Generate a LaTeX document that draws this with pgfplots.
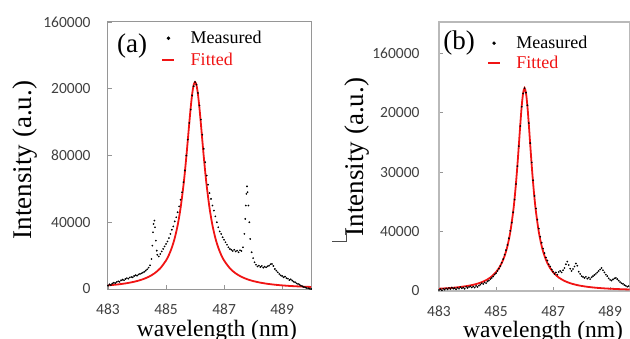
\documentclass[border=0pt]{standalone}
\usepackage{pgfplots}
\pgfplotsset{compat=1.18}
\usepackage{fontspec}
\setmainfont{Liberation Serif}
\newfontfamily\seriffont{Liberation Serif}
\newfontfamily\tickfont{Carlito}
\definecolor{tickgray}{RGB}{64,64,64}
\definecolor{boxgray}{RGB}{150,150,150}
\definecolor{fitred}{RGB}{240,20,20}

\pgfplotsset{
  spec/.style={
    scale only axis, anchor=south west,
    xmin=483, ymin=0,
    xtick={483,485,487,489},
    xticklabels={483,485,487,489},
    ytick={0,40000,80000,120000,160000},
    scaled ticks=false,
    tick align=inside, major tick length=4pt,
    xtick pos=bottom, ytick pos=left,
    axis line style={boxgray, line width=1pt},
    tick style={boxgray, line width=0.8pt},
    tick label style={font=\tickfont\fontsize{15.5}{15.5}\selectfont, text=tickgray},
    xticklabel style={yshift=-11pt},
    ylabel={Intensity (a.u.)},
    xlabel={wavelength (nm)},
    legend cell align=left,
    reverse legend,
  },
  meas/.style={only marks, mark=*, mark size=0.65pt, black,
    legend image code/.code={\draw[mark repeat=2,mark phase=2,##1,mark size=1.5pt] plot coordinates {(0pt,0pt) (6pt,0pt) (12pt,0pt)};}},
  fit/.style={fitred, line width=1.8pt, smooth, no marks,
    legend image code/.code={\draw[##1, line width=2.5pt] (0pt,0pt) -- (12pt,0pt);}},
}

\begin{document}
\begin{tikzpicture}
\useasboundingbox (0,0) rectangle (630pt,338pt);
\clip (0,0) rectangle (630pt,338pt);

% ---------------- (a) ----------------
\begin{axis}[spec,
  at={(108pt,49pt)}, width=204pt, height=267pt,
  xmax=490.03, ymax=160000,
  yticklabels={0,40000,80000,20000,160000},
  yticklabel style={xshift=-14pt},
  every axis y label/.style={at={(axis description cs:-0.407,0.483)}, rotate=90, anchor=center, font=\seriffont\fontsize{27}{27}\selectfont},
  every axis x label/.style={at={(axis description cs:0.534,-0.178)}, anchor=base, font=\seriffont\fontsize{23.5}{23.5}\selectfont},
  legend style={draw=none, fill=none, at={(rel axis cs:0.26,0.968)}, anchor=north west,
    font=\seriffont\fontsize{18}{18}\selectfont, inner sep=0pt, row sep=7pt,
    nodes={inner ysep=1pt, inner xsep=2pt, text height=12pt, text depth=1pt}},
]
\addplot[fit] table {
x y
483.00 2166
483.25 2569
483.50 3095
483.75 3799
484.00 4769
484.20 5835
484.40 7294
484.60 9358
484.80 12400
485.00 17103
485.10 20454
485.20 24800
485.30 30523
485.40 38154
485.50 48390
485.60 62000
485.65 70230
485.70 79360
485.75 89169
485.80 99200
485.85 108712
485.90 116706
485.95 122092
486.00 124000
486.05 122092
486.10 116706
486.15 108712
486.20 99200
486.25 89169
486.30 79360
486.35 70230
486.40 62000
486.50 48390
486.60 38154
486.70 30523
486.80 24800
486.90 20454
487.00 17103
487.20 12400
487.40 9358
487.60 7294
487.80 5835
488.00 4769
488.25 3799
488.50 3095
488.75 2569
489.00 2166
489.25 1850
489.50 1599
489.75 1395
490.00 1228
};
\addlegendentry{\hspace{13pt}\textcolor{fitred}{Fitted}}
\addplot[meas] table {
x y
483.00 2000
483.05 2800
483.10 2400
483.15 3300
483.20 3800
483.25 3500
483.30 4200
483.35 4600
483.40 4300
483.45 5200
483.50 5600
483.55 5300
483.60 6000
483.65 6500
483.70 6200
483.75 6900
483.80 7200
483.85 7000
483.90 7800
483.95 8300
484.00 8000
484.05 8700
484.10 9000
484.15 9400
484.20 9800
484.25 10300
484.30 11000
484.35 11800
484.40 12800
484.45 14200
484.50 18000
484.53 26000
484.55 34000
484.57 39000
484.60 41000
484.62 37000
484.65 29000
484.68 23000
484.70 20500
484.75 19500
484.80 21000
484.85 22500
484.90 24000
484.95 25500
485.00 27000
485.05 28500
485.10 30500
485.15 33000
485.20 35500
485.25 37500
485.30 40500
485.35 43000
485.40 46000
485.45 49500
485.50 53500
485.55 58000
485.60 64000
485.65 71000
485.70 80000
485.75 89500
485.80 99500
485.85 107500
485.90 116000
485.95 121500
486.00 124000
486.05 122500
486.10 117500
486.15 110000
486.20 101500
486.25 92500
486.30 84000
486.35 76000
486.40 68000
486.45 62500
486.50 57500
486.55 54000
486.60 50000
486.65 47000
486.70 43500
486.75 40000
486.80 37000
486.85 34500
486.90 33000
486.95 31000
487.00 29500
487.05 28000
487.10 26500
487.15 25000
487.20 24000
487.25 23500
487.30 22800
487.35 23500
487.40 22500
487.45 23000
487.50 22000
487.55 23200
487.60 22800
487.65 25000
487.70 33000
487.73 42000
487.75 50000
487.77 57000
487.79 61500
487.81 58000
487.84 50000
487.87 40000
487.90 30000
487.95 22000
488.00 18500
488.05 16000
488.10 14500
488.15 13500
488.20 14000
488.25 13200
488.30 13800
488.35 12800
488.40 13400
488.45 13000
488.50 13600
488.55 14000
488.60 14800
488.65 15000
488.70 13800
488.75 12000
488.80 11000
488.85 10000
488.90 9000
488.95 8200
489.00 7800
489.05 7000
489.10 7400
489.15 6500
489.20 6200
489.25 5400
489.30 5800
489.35 5000
489.40 4400
489.45 4000
489.50 3400
489.55 3000
489.60 2600
489.65 2000
489.70 1600
489.75 1200
489.80 900
489.85 600
489.90 400
489.95 200
490.00 0
};
\addlegendentry{\hspace{13pt}Measured}
\node[font=\seriffont\fontsize{27}{27}\selectfont] at (rel axis cs:0.118,0.910) {(a)};
\end{axis}

% ---------------- (b) ----------------
\begin{axis}[spec,
  at={(439pt,47pt)}, width=190.5pt, height=269pt,
  xmax=489.68, ymax=181000,
  yticklabels={0,40000,30000,20000,160000},
  yticklabel style={xshift=-16pt},
  every axis y label/.style={at={(axis description cs:-0.428,0.498)}, rotate=90, anchor=center, font=\seriffont\fontsize{27}{27}\selectfont},
  every axis x label/.style={at={(axis description cs:0.546,-0.171)}, anchor=base, font=\seriffont\fontsize{23.5}{23.5}\selectfont},
  axis line style={gray!55, line width=1.4pt},
  legend style={draw=none, fill=none, at={(rel axis cs:0.25,0.950)}, anchor=north west,
    font=\seriffont\fontsize{18}{18}\selectfont, inner sep=0pt, row sep=5pt,
    nodes={inner ysep=1pt, inner xsep=2pt, text height=12pt, text depth=1pt}},
]
\addplot[fit] table {
x y
483.00 1536
483.25 1824
483.50 2200
483.75 2706
484.00 3407
484.20 4182
484.40 5250
484.60 6778
484.80 9062
485.00 12680
485.10 15320
485.20 18828
485.30 23595
485.40 30229
485.50 39665
485.60 53270
485.65 62152
485.70 72651
485.75 84767
485.80 98160
485.85 111914
485.90 124359
485.95 133251
486.00 136500
486.05 133251
486.10 124359
486.15 111914
486.20 98160
486.25 84767
486.30 72651
486.35 62152
486.40 53270
486.50 39665
486.60 30229
486.70 23595
486.80 18828
486.90 15320
487.00 12680
487.20 9062
487.40 6778
487.60 5250
487.80 4182
488.00 3407
488.25 2706
488.50 2200
488.75 1824
489.00 1536
489.25 1311
489.50 1132
489.75 987
};
\addlegendentry{\hspace{13pt}\textcolor{fitred}{Fitted}}
\addplot[meas] table {
x y
483.00 700
483.05 1200
483.10 500
483.15 1500
483.20 900
483.25 1800
483.30 1100
483.35 2000
483.40 1300
483.45 2300
483.50 1600
483.55 1900
483.60 1200
483.65 2200
483.70 1500
483.75 2600
483.80 1800
483.85 2300
483.90 1500
483.95 2800
484.00 2000
484.05 2700
484.10 3100
484.15 2400
484.20 3000
484.25 2300
484.30 3400
484.35 2700
484.40 3600
484.45 4300
484.50 5200
484.55 4700
484.60 5800
484.65 5300
484.70 6500
484.75 7000
484.80 8000
484.85 8800
484.90 9800
484.95 11000
485.00 12000
485.05 13500
485.10 15000
485.15 16800
485.20 19000
485.25 21500
485.30 24500
485.35 27500
485.40 31000
485.45 35500
485.50 40500
485.55 46000
485.60 53000
485.65 61500
485.70 72000
485.75 84000
485.80 97500
485.85 111000
485.90 124000
485.95 133000
486.00 136500
486.05 133500
486.10 125000
486.15 113000
486.20 99500
486.25 86500
486.30 74500
486.35 64000
486.40 55500
486.45 48000
486.50 42000
486.55 36500
486.60 32500
486.65 28500
486.70 25500
486.75 22500
486.80 20500
486.85 18000
486.90 16500
486.95 14500
487.00 13000
487.05 11500
487.10 12500
487.15 11000
487.20 12800
487.25 13500
487.30 12500
487.35 14000
487.40 15500
487.45 18000
487.50 19800
487.55 17500
487.60 15000
487.65 13500
487.70 14800
487.75 16500
487.80 18500
487.85 17000
487.90 13000
487.95 11500
488.00 10000
488.05 9500
488.10 8800
488.15 9500
488.20 8300
488.25 9000
488.30 8000
488.35 9200
488.40 10000
488.45 10800
488.50 11500
488.55 12500
488.60 13500
488.65 14500
488.70 15500
488.75 14000
488.80 12500
488.85 11000
488.90 10000
488.95 8500
489.00 7500
489.05 7000
489.10 7800
489.15 8500
489.20 8800
489.25 8000
489.30 7000
489.35 6000
489.40 5200
489.45 4800
489.50 4000
489.55 3500
489.60 2900
489.65 3300
489.70 2800
};
\addlegendentry{\hspace{13pt}Measured}
\node[font=\seriffont\fontsize{27}{27}\selectfont] at (rel axis cs:0.105,0.922) {(b)};
\end{axis}

\draw[black!70, line width=0.8pt] (332pt,96.5pt) -- (346pt,96.5pt) -- (346pt,106pt);
\end{tikzpicture}
\end{document}
